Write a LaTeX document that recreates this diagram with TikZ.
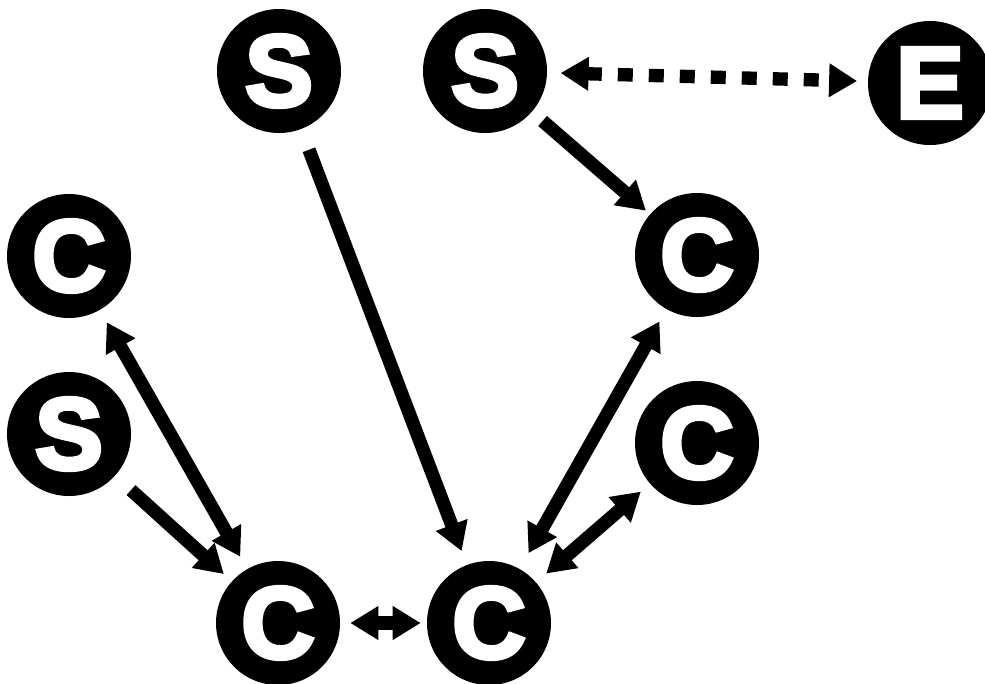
\documentclass[tikz,border=0pt]{standalone}
\usepackage{fontspec}
\usetikzlibrary{arrows.meta}
\newfontfamily\heavyfont{Liberation Sans Bold}[FakeBold=4.5]
\begin{document}
\begin{tikzpicture}[x=0.75pt,y=-0.75pt,
  vertex/.style={circle, fill=black, minimum size=93pt, inner sep=0pt,
    text=white, font=\heavyfont\fontsize{76}{76}\selectfont},
  link/.style={line width=10pt, -{Triangle[length=21pt,width=24pt]}},
  twoway/.style={line width=10pt, {Triangle[length=21pt,width=24pt]}-{Triangle[length=21pt,width=24pt]}},
  dotted link/.style={twoway, dash pattern=on 11.25pt off 12pt}
]
\useasboundingbox (0,0) rectangle (985,683);

% vertices
\node[vertex] (s1)  at (279,71)  {S};
\node[vertex] (s2)  at (485,71)  {S};
\node[vertex] (e)   at (930,83)  {E};
\node[vertex] (cl)  at (69,256)  {C};
\node[vertex] (crt) at (697,255) {C};
\node[vertex] (sl)  at (69,434)  {S};
\node[vertex] (crm) at (697,443) {C};
\node[vertex] (cbl) at (278,623) {C};
\node[vertex] (cbm) at (489,623) {C};

% one-way links
\draw[link, shorten <=16.5pt, shorten >=11pt] (s1) -- (cbm);
\draw[link, shorten <=10.5pt, shorten >=4pt]  (s2) -- (crt);
\draw[link, shorten <=16pt, shorten >=8pt]    (sl) -- (cbl);

% two-way links
\draw[dotted link, shorten <=10pt, shorten >=8pt]    (s2) -- (e);
\draw[twoway, shorten <=10.5pt, shorten >=10.5pt]    (cl) -- (cbl);
\draw[twoway, shorten <=10.5pt, shorten >=13.5pt]    (crt) -- (cbm);
\draw[twoway, shorten <=9pt, shorten >=10pt]         (crm) -- (cbm);
\draw[twoway, shorten <=7.5pt, shorten >=4.5pt]      (cbl) -- (cbm);
\end{tikzpicture}
\end{document}
